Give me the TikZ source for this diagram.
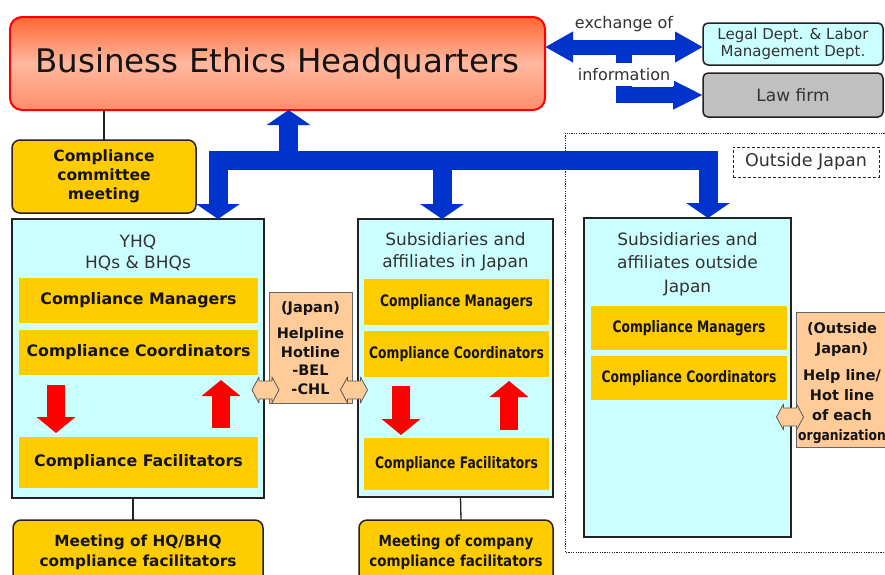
\documentclass[tikz,border=0pt]{standalone}
\usepackage{fontspec}
\setmainfont{DejaVu Sans}
\usepackage{graphicx}
\usetikzlibrary{arrows.meta,calc}
\definecolor{blueA}{RGB}{0,51,204}
\definecolor{yel}{RGB}{255,204,0}
\definecolor{cyanL}{RGB}{204,255,255}
\definecolor{peach}{RGB}{255,204,153}
\definecolor{grayL}{RGB}{192,192,192}
\definecolor{txt}{RGB}{50,50,50}
\definecolor{ink}{RGB}{20,20,20}
\definecolor{dark}{RGB}{34,34,34}
\definecolor{hqtop}{RGB}{255,102,51}
\definecolor{hqmid}{RGB}{255,185,160}
\definecolor{hqbot}{RGB}{255,140,105}
\definecolor{redA}{RGB}{255,0,0}
\newcommand\fs[2]{\fontsize{#1}{#2}\selectfont}
\newcommand\sx[2]{\scalebox{#1}[1]{#2}}
\begin{document}
\begin{tikzpicture}[x=1pt,y=-1pt,
  every node/.style={outer sep=0pt,inner sep=0pt},
  hqbox/.style={draw=redA,line width=2pt,rounded corners=12pt,minimum width=535pt,minimum height=93pt,
    top color=hqtop,bottom color=hqbot,middle color=hqmid,text=ink},
  ybox/.style={draw=dark,line width=1.5pt,fill=yel,rounded corners=8pt,align=center,text=ink,font=\bfseries},
  cbox/.style={draw=dark,line width=1.5pt,fill=cyanL},
  bar/.style={fill=yel,text=ink,font=\bfseries},
  ttl/.style={align=center,text=txt},
  lbl/.style={text=txt,font=\fs{16}{19}},
  pbox/.style={fill=peach,draw=gray!80!black,line width=1pt},
  conn/.style={draw=dark,line width=1.3pt},
  tree/.style={blueA,line width=19pt,line join=miter},
  bigtip/.tip={Triangle[width=43pt,length=15pt]},
  redarr/.style={redA,line width=18pt,-{Triangle[width=38pt,length=16pt]}},
  parrow/.style={fill=peach,draw=gray!70!black,line width=0.8pt,line join=round},
  dotline/.style={draw=dark,line width=1pt,dash pattern=on 1.2pt off 1.2pt},
]
\useasboundingbox (0,0) rectangle (885,574);
\clip (0,0) rectangle (885,574);
\fill[white] (0,0) rectangle (885,574);

% outside Japan region
\draw[dotline] (565,133) rectangle (895,552);
\node[draw=dark,line width=1pt,dash pattern=on 3pt off 2pt,fill=white,minimum width=146pt,minimum height=30pt,text=txt,font=\fs{17.5}{20}] (oj) at (806,162) {Outside Japan};

% headquarters and right boxes
\node[hqbox] (hq) at (277.5,63.5) {\fs{32.5}{39}Business Ethics Headquarters};
\node[cbox,rounded corners=5pt,minimum width=180pt,minimum height=42pt,align=center,text=txt,font=\fs{15}{17}] (legal) at (793,44) {Legal Dept. \& Labor\\Management Dept.};
\node[draw=dark,line width=1.5pt,fill=grayL,rounded corners=5pt,minimum width=180pt,minimum height=44pt,text=txt,font=\fs{17}{20}] (law) at (793,95) {Law firm};

% committee
\node[ybox,minimum width=184pt,minimum height=73pt,font=\bfseries\fs{15.5}{19}] (cm) at (104,176.5) {Compliance\\committee\\meeting};
\draw[conn] (cm.north |- hq.south) -- (cm.north);

% left box
\node[cbox,minimum width=252pt,minimum height=279pt] (boxL) at (138,358.5) {};
\node[ttl,font=\fs{17}{21}] (tL) at (138,253) {YHQ\\HQs \& BHQs};
\node[bar,minimum width=239pt,minimum height=45pt,font=\bfseries\fs{15.8}{19}] (mgrL) at (138.5,300.5) {Compliance Managers};
\node[bar,minimum width=239pt,minimum height=45pt,font=\bfseries\fs{15.8}{19}] (coL) at (138.5,352.5) {Compliance Coordinators};
\node[bar,minimum width=239pt,minimum height=51pt,font=\bfseries\fs{15.8}{19}] (faL) at (138.5,462.5) {Compliance Facilitators};
\draw[redarr] ([shift={(37,10)}]coL.south west) -- ([shift={(37,-4)}]faL.north west);
\draw[redarr] ([shift={(-37,-9)}]faL.north east) -- ([shift={(-37,5)}]coL.south east);

% middle box
\node[cbox,minimum width=195pt,minimum height=278pt] (boxM) at (455.5,358) {};
\node[ttl,font=\fs{17}{22}] (tM) at (455.5,252) {Subsidiaries and\\affiliates in Japan};
\node[bar,minimum width=185pt,minimum height=46pt,font=\bfseries\fs{15.8}{19}] (mgrM) at (456.5,302) {\sx{0.78}{Compliance Managers}};
\node[bar,minimum width=185pt,minimum height=46pt,font=\bfseries\fs{15.8}{19}] (coM) at (456.5,354) {\sx{0.78}{Compliance Coordinators}};
\node[bar,minimum width=185pt,minimum height=52pt,font=\bfseries\fs{15.8}{19}] (faM) at (456.5,464) {\sx{0.78}{Compliance Facilitators}};
\draw[redarr] ([shift={(37,9)}]coM.south west) -- ([shift={(37,-3)}]faM.north west);
\draw[redarr] ([shift={(-40,-8)}]faM.north east) -- ([shift={(-40,4)}]coM.south east);

% right box
\node[cbox,minimum width=207pt,minimum height=319pt] (boxR) at (687.5,377.5) {};
\node[ttl,font=\fs{17}{23.5}] (tR) at (687.5,264) {Subsidiaries and\\affiliates outside\\Japan};
\node[bar,minimum width=196pt,minimum height=44pt,font=\bfseries\fs{15.8}{19}] (mgrR) at (689,328) {\sx{0.78}{Compliance Managers}};
\node[bar,minimum width=196pt,minimum height=44pt,font=\bfseries\fs{15.8}{19}] (coR) at (689,378) {\sx{0.78}{Compliance Coordinators}};

% helplines
\node[pbox,minimum width=83pt,minimum height=111pt] (hJ) at (310.5,347.5) {};
\node[align=center,text=ink,font=\bfseries\fs{14.5}{18.5}] (hJt) at (310.5,348) {(Japan)\\[7.5pt]Helpline\\Hotline\\-BEL\\-CHL};
\node[pbox,minimum width=94pt,minimum height=135pt] (hO) at (843,379.5) {};
\node[align=center,text=ink,font=\bfseries\fs{14.5}{20}] (hOt) at (842,383) {(Outside\\Japan)\\[7pt]Help line/\\Hot line\\of each\\\sx{0.85}{organization}};

% peach double arrows
\newcommand\pdarrow[1]{%
  \draw[parrow] ($(#1)+(-13.5,0)$) -- ++(7,-13) -- ++(0,4) -- ++(13,0) -- ++(0,-4) -- ++(7,13)
    -- ++(-7,13) -- ++(0,-4) -- ++(-13,0) -- ++(0,4) -- cycle;}
\coordinate (pa1) at (265.5,390);
\coordinate (pa2) at (354,390);
\coordinate (pa3) at (790,417);
\pdarrow{pa1}
\pdarrow{pa2}
\pdarrow{pa3}

% meetings
\node[ybox,minimum width=250pt,minimum height=64pt,font=\bfseries\fs{15.3}{20}] (meetL) at (138,552) {Meeting of HQ/BHQ\\compliance facilitators};
\node[ybox,minimum width=194pt,minimum height=64pt,font=\bfseries\fs{15.3}{20}] (meetM) at (456,552) {\sx{0.88}{Meeting of company}\\\sx{0.88}{compliance facilitators}};
\draw[conn] ([xshift=-5pt]boxL.south) -- ([xshift=-5pt]meetL.north);
\draw[conn] ([xshift=5pt]boxM.south) -- ([xshift=5pt]meetM.north);

% blue distribution tree
\draw[tree,bigtip-bigtip] (218,0 |- boxL.north) -- (218,160.5) -- (708,160.5) -- (708,0 |- boxR.north);
\draw[tree,-bigtip] (442,160.5) -- (442,0 |- boxM.north);
\draw[tree,-bigtip] (288.5,160.5) -- (288.5,0 |- hq.south);

% exchange of information
\draw[blueA,line width=16pt,line join=miter,-{Triangle[width=27pt,length=30pt]}] (624,47) -- (624,95) -- (law.west);
\draw[blueA,line width=15pt,{Triangle[width=29pt,length=28pt]}-{Triangle[width=29pt,length=28pt]}] (hq.east |- 0,47) -- (legal.west |- 0,47);
\node[lbl] (exch) at (624,24) {exchange of};
\node[lbl,fill=white,minimum width=100pt,minimum height=23pt] (info) at (624,74.5) {information};
\end{tikzpicture}
\end{document}
